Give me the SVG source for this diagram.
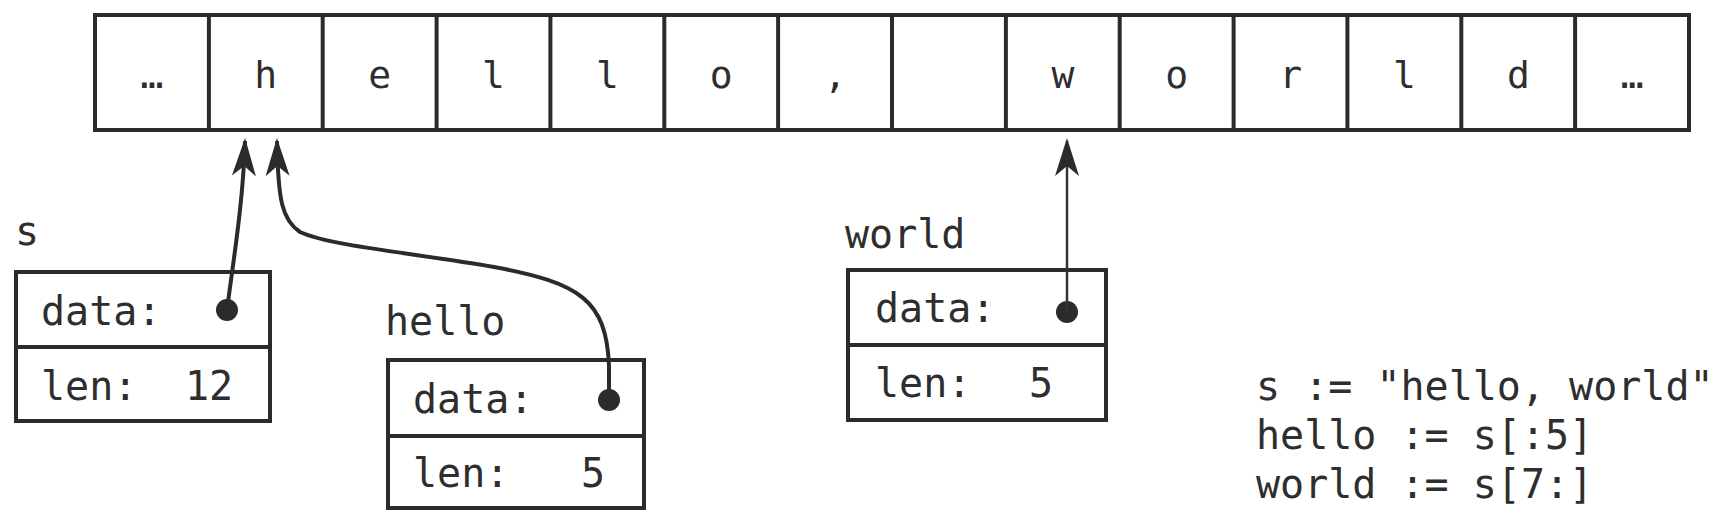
<svg xmlns="http://www.w3.org/2000/svg" width="1718" height="522" viewBox="0 0 1718 522">
<style>
.bg{fill:#ffffff}
.box{fill:none;stroke:#2b2b2b;stroke-width:4}
.div{stroke:#2b2b2b;stroke-width:4}
.t{font-family:"DejaVu Sans Mono","Liberation Mono",monospace;font-size:40px;fill:#2e2e2e}
.c{font-family:"DejaVu Sans Mono","Liberation Mono",monospace;font-size:38px;fill:#2e2e2e;text-anchor:middle}
.conn{fill:none;stroke:#2b2b2b;stroke-width:4}
.thin{fill:none;stroke:#333;stroke-width:2.5}
.dot{fill:#2b2b2b}
</style>
<defs>
<marker id="arr" viewBox="0 0 38 26" refX="35" refY="13" markerWidth="38" markerHeight="26" markerUnits="userSpaceOnUse" orient="auto">
<path d="M38,13 L0,1 L10,13 L0,25 z" fill="#2b2b2b"/>
</marker>
</defs>
<rect class="bg" x="0" y="0" width="1718" height="522"/>
<g id="array">
<rect class="box" x="95" y="15" width="1594" height="115"/>
<g class="div">
<line x1="208.9" y1="15" x2="208.9" y2="130"/>
<line x1="322.7" y1="15" x2="322.7" y2="130"/>
<line x1="436.6" y1="15" x2="436.6" y2="130"/>
<line x1="550.4" y1="15" x2="550.4" y2="130"/>
<line x1="664.3" y1="15" x2="664.3" y2="130"/>
<line x1="778.1" y1="15" x2="778.1" y2="130"/>
<line x1="892.0" y1="15" x2="892.0" y2="130"/>
<line x1="1005.9" y1="15" x2="1005.9" y2="130"/>
<line x1="1119.7" y1="15" x2="1119.7" y2="130"/>
<line x1="1233.6" y1="15" x2="1233.6" y2="130"/>
<line x1="1347.4" y1="15" x2="1347.4" y2="130"/>
<line x1="1461.3" y1="15" x2="1461.3" y2="130"/>
<line x1="1575.1" y1="15" x2="1575.1" y2="130"/>
</g>
<text class="c" x="151.9" y="88">…</text>
<text class="c" x="265.8" y="88">h</text>
<text class="c" x="379.6" y="88">e</text>
<text class="c" x="493.5" y="88">l</text>
<text class="c" x="607.4" y="88">l</text>
<text class="c" x="721.2" y="88">o</text>
<text class="c" x="835.1" y="88">,</text>
<text class="c" x="1062.9" y="88">w</text>
<text class="c" x="1176.7" y="88">o</text>
<text class="c" x="1290.6" y="88">r</text>
<text class="c" x="1404.5" y="88">l</text>
<text class="c" x="1518.4" y="88">d</text>
<text class="c" x="1632.2" y="88">…</text>
</g>
<g id="node-s">
<text class="t" x="15" y="245">s</text>
<rect class="box" x="16" y="272" width="254" height="149"/>
<line class="div" x1="16" y1="347" x2="270" y2="347"/>
<text class="t" x="41" y="325">data:</text>
<text class="t" x="41" y="400">len:</text>
<text class="t" x="185" y="400">12</text>
<circle class="dot" cx="227" cy="310" r="11"/>
</g>
<g id="node-hello">
<text class="t" x="385" y="335">hello</text>
<rect class="box" x="388" y="360" width="256" height="148"/>
<line class="div" x1="388" y1="436" x2="644" y2="436"/>
<text class="t" x="413" y="413">data:</text>
<text class="t" x="413" y="487">len:</text>
<text class="t" x="581" y="487">5</text>
<circle class="dot" cx="609" cy="400" r="11"/>
</g>
<g id="node-world">
<text class="t" x="845" y="248">world</text>
<rect class="box" x="848" y="270" width="258" height="150"/>
<line class="div" x1="848" y1="345" x2="1106" y2="345"/>
<text class="t" x="875" y="322">data:</text>
<text class="t" x="875" y="397">len:</text>
<text class="t" x="1029" y="397">5</text>
<circle class="dot" cx="1067" cy="312" r="11"/>
</g>
<g id="code">
<text class="t" x="1256" y="400" xml:space="preserve">s := "hello, world"</text>
<text class="t" x="1256" y="449" xml:space="preserve">hello := s[:5]</text>
<text class="t" x="1256" y="498" xml:space="preserve">world := s[7:]</text>
</g>
<g id="connectors">
<path class="conn" d="M227,310 C233,262 243,205 245,141" marker-end="url(#arr)"/>
<path class="conn" d="M609,400 L609,365 C606,300 580,283 494,267 C420,254 330,246 300,232 C282,220 278,200 277,141" marker-end="url(#arr)"/>
<path class="thin" d="M1067,312 L1067,141" marker-end="url(#arr)"/>
</g>
</svg>
